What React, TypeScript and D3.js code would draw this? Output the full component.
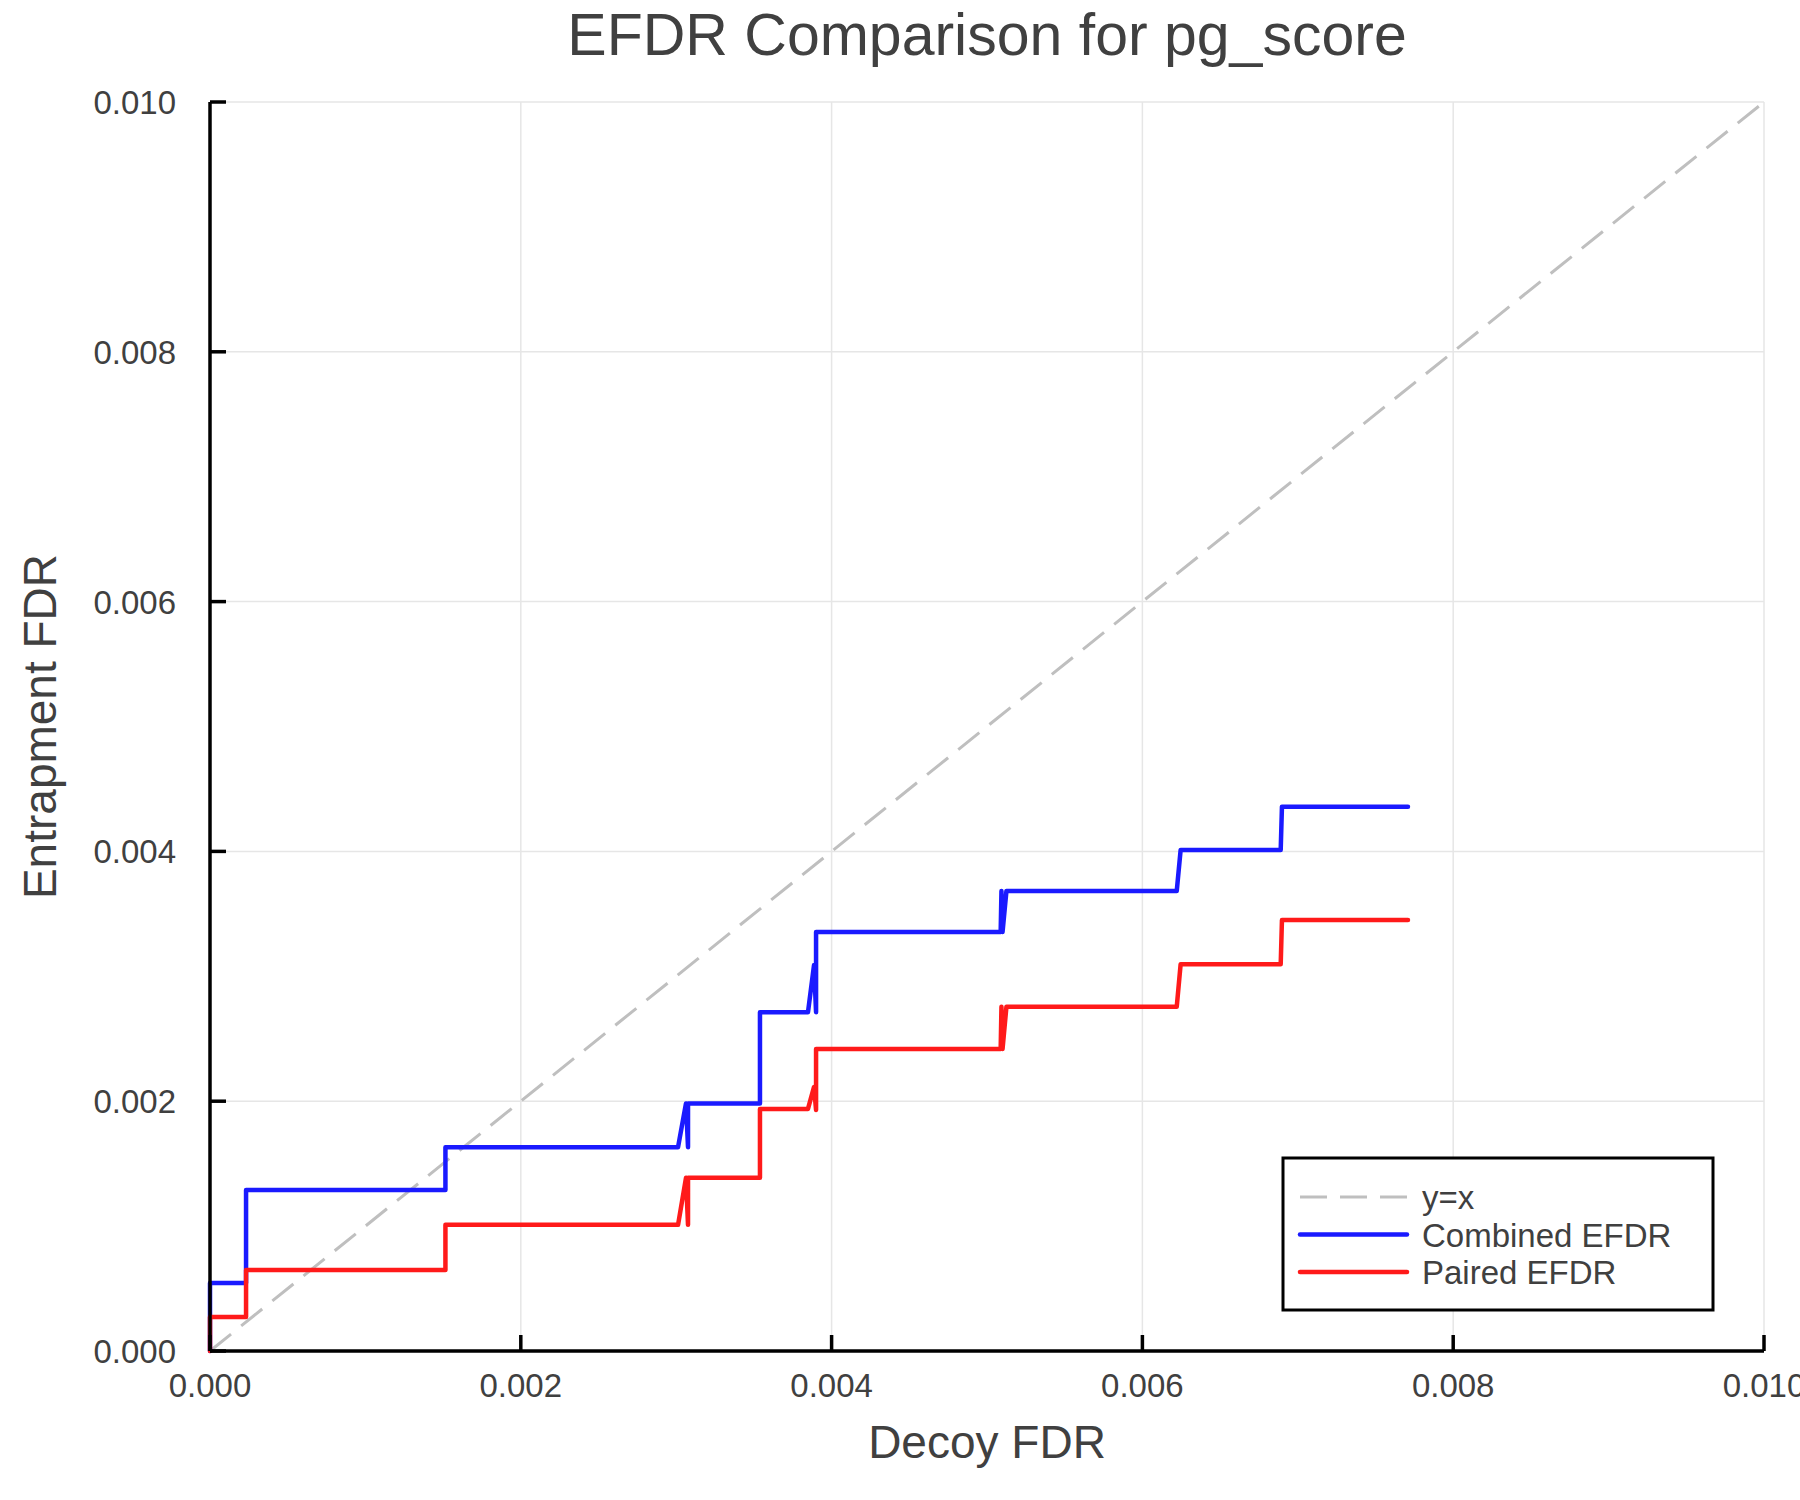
import * as d3 from "d3";

const W = 1800;
const H = 1500;
const mg = { left: 210, right: 36, top: 102, bottom: 149 };

const title = "EFDR Comparison for pg_score";
const xLabel = "Decoy FDR";
const yLabel = "Entrapment FDR";

const tickValues = [0, 0.002, 0.004, 0.006, 0.008, 0.01];
const tickLabels = ["0.000", "0.002", "0.004", "0.006", "0.008", "0.010"];

// decoy FDR / entrapment FDR pairs
const combinedX = [
  0, 0, 0.000232, 0.000232, 0.001515, 0.001515, 0.003012, 0.003063, 0.003076, 0.003076,
  0.003539, 0.003539, 0.003848, 0.003887, 0.0039, 0.0039, 0.005088, 0.005093, 0.0051,
  0.005125, 0.006221, 0.006246, 0.00689, 0.006898, 0.007709,
];
const combinedY = [
  0, 0.000544, 0.000544, 0.001289, 0.001289, 0.001632, 0.001632, 0.001982, 0.001632, 0.001982,
  0.001982, 0.002712, 0.002712, 0.00309, 0.002712, 0.003355, 0.003355, 0.003683, 0.003355,
  0.003683, 0.003683, 0.004011, 0.004011, 0.004358, 0.004358,
];

const pairedX = [
  0, 0, 0.000232, 0.000232, 0.001515, 0.001515, 0.003012, 0.003063, 0.003076, 0.003076,
  0.003539, 0.003539, 0.003848, 0.003887, 0.0039, 0.0039, 0.005088, 0.005093, 0.0051,
  0.005125, 0.006221, 0.006246, 0.00689, 0.006898, 0.007709,
];
const pairedY = [
  0, 0.000272, 0.000272, 0.000649, 0.000649, 0.00101, 0.00101, 0.001387, 0.00101, 0.001387,
  0.001387, 0.001938, 0.001938, 0.002114, 0.00193, 0.002418, 0.002418, 0.002756, 0.002418,
  0.002756, 0.002756, 0.003096, 0.003096, 0.003451, 0.003451,
];

const legendItems = [
  { label: "y=x", color: "#bfbfbf", dash: "27 13", width: 3 },
  { label: "Combined EFDR", color: "#1a1aff", dash: "none", width: 4.5 },
  { label: "Paired EFDR", color: "#ff1a1a", dash: "none", width: 4.5 },
];

const font = "'Liberation Sans', Helvetica, Arial, sans-serif";
const ink = "#404040";

export default function App() {
  const x = d3.scaleLinear().domain([0, 0.01]).range([mg.left, W - mg.right]);
  const y = d3.scaleLinear().domain([0, 0.01]).range([H - mg.bottom, mg.top]);

  const line = d3
    .line<[number, number]>()
    .x((d) => x(d[0]))
    .y((d) => y(d[1]));

  const combined = combinedX.map((v, i) => [v, combinedY[i]] as [number, number]);
  const paired = pairedX.map((v, i) => [v, pairedY[i]] as [number, number]);
  const diag: [number, number][] = [
    [0, 0],
    [0.01, 0.01],
  ];

  const x0 = x(0);
  const x1 = x(0.01);
  const y0 = y(0);
  const y1 = y(0.01);
  const tickLen = 16;

  const lg = { x: 1283, y: 1158, w: 430, h: 152, lineX0: 1300, lineX1: 1407, textX: 1422, row0: 1197, rowH: 37.5 };

  return (
    <svg
      width={W}
      height={H}
      viewBox={`0 0 ${W} ${H}`}
      style={{ position: "absolute", left: 0, top: 0, background: "#fff" }}
      fontFamily={font}
    >
      <rect width={W} height={H} fill="#fff" />

      {/* grid */}
      {tickValues.map((t) => (
        <g key={`g${t}`}>
          <line x1={x(t)} x2={x(t)} y1={y0} y2={y1} stroke="#e6e6e6" strokeWidth={1.5} />
          <line x1={x0} x2={x1} y1={y(t)} y2={y(t)} stroke="#e6e6e6" strokeWidth={1.5} />
        </g>
      ))}

      {/* series */}
      <path d={line(diag) ?? ""} fill="none" stroke="#bfbfbf" strokeWidth={3} strokeDasharray="27 13" />
      <path d={line(combined) ?? ""} fill="none" stroke="#1a1aff" strokeWidth={4.5} strokeLinejoin="round" strokeLinecap="round" />
      <path d={line(paired) ?? ""} fill="none" stroke="#ff1a1a" strokeWidth={4.5} strokeLinejoin="round" strokeLinecap="round" />

      {/* axes */}
      <line x1={x0} x2={x1} y1={y0} y2={y0} stroke="#000" strokeWidth={3.5} />
      <line x1={x0} x2={x0} y1={y0} y2={y1} stroke="#000" strokeWidth={3.5} />
      {tickValues.map((t, i) => (
        <g key={`t${t}`}>
          <line x1={x(t)} x2={x(t)} y1={y0} y2={y0 - tickLen} stroke="#000" strokeWidth={3.5} />
          <line x1={x0} x2={x0 + tickLen} y1={y(t)} y2={y(t)} stroke="#000" strokeWidth={3.5} />
          <text x={x(t)} y={y0 + 46} textAnchor="middle" fontSize={33} fill={ink}>
            {tickLabels[i]}
          </text>
          <text x={x0 - 34} y={y(t) + 12} textAnchor="end" fontSize={33} fill={ink}>
            {tickLabels[i]}
          </text>
        </g>
      ))}

      {/* labels */}
      <text x={(x0 + x1) / 2} y={55} textAnchor="middle" fontSize={59} fill={ink}>
        {title}
      </text>
      <text x={(x0 + x1) / 2} y={1458} textAnchor="middle" fontSize={46} fill={ink}>
        {xLabel}
      </text>
      <text
        transform={`translate(56 ${(y0 + y1) / 2}) rotate(-90)`}
        textAnchor="middle"
        fontSize={46}
        fill={ink}
      >
        {yLabel}
      </text>

      {/* legend */}
      <rect x={lg.x} y={lg.y} width={lg.w} height={lg.h} fill="#fff" stroke="#000" strokeWidth={3} />
      {legendItems.map((it, i) => {
        const ry = lg.row0 + i * lg.rowH;
        return (
          <g key={it.label}>
            <line
              x1={lg.lineX0}
              x2={lg.lineX1}
              y1={ry}
              y2={ry}
              stroke={it.color}
              strokeWidth={it.width}
              strokeDasharray={it.dash}
              strokeLinecap={it.dash === "none" ? "round" : "butt"}
            />
            <text x={lg.textX} y={ry + 12} fontSize={33} fill={ink}>
              {it.label}
            </text>
          </g>
        );
      })}
    </svg>
  );
}
